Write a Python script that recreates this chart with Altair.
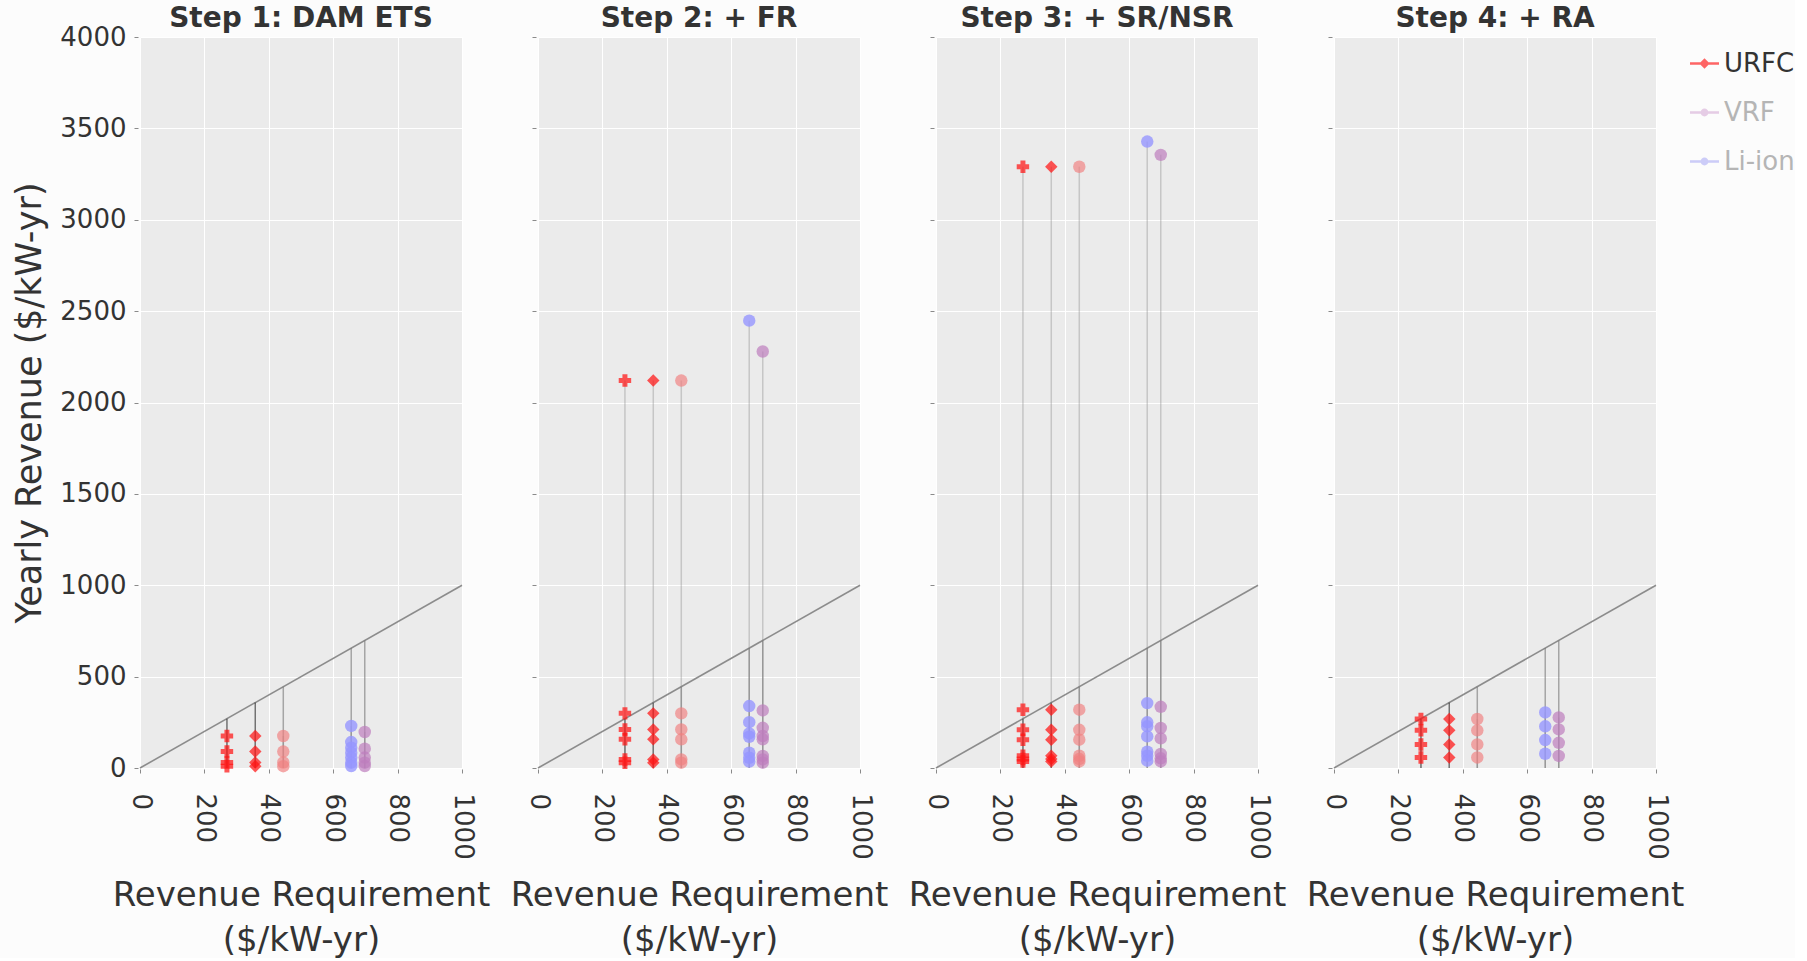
import altair as alt
import pandas as pd

# Panels: each step adds a market to the revenue stack
steps = ["Step 1: DAM ETS", "Step 2: + FR", "Step 3: + SR/NSR", "Step 4: + RA"]

# Storage cases: revenue requirement ($/kW-yr) and marker style
series = ["URFC-a", "URFC-b", "URFC-c", "Li-ion", "VRF"]
requirement = [270, 358, 445, 656, 698]
series_shape = ["cross", "diamond", "circle", "circle", "circle"]
series_size = [155, 155, 105, 105, 105]
series_fill = [
    "rgba(255,20,20,0.72)",
    "rgba(255,20,20,0.72)",
    "rgba(240,128,128,0.68)",
    "rgba(150,150,255,0.8)",
    "rgba(190,125,190,0.7)",
]
# darker guide from zero up to the requirement for the first two URFC cases
req_rule_color = ["#222222", "#222222", "#777777", "#777777", "#777777"]

# Yearly revenue ($/kW-yr) per step, per case (scenarios)
revenue = {
    steps[0]: [
        [175, 90, 30, 10],
        [175, 90, 30, 10],
        [175, 90, 30, 10],
        [230, 142, 111, 84, 57, 29, 11],
        [197, 106, 57, 29, 11],
    ],
    steps[1]: [
        [2120, 299, 211, 157, 47, 29],
        [2120, 299, 211, 157, 47, 29],
        [2120, 299, 211, 157, 47, 29],
        [2448, 339, 251, 189, 171, 84, 56, 35],
        [2279, 315, 220, 175, 157, 66, 47, 29],
    ],
    steps[2]: [
        [3290, 319, 209, 155, 67, 49, 36],
        [3290, 319, 209, 155, 67, 49, 36],
        [3290, 319, 209, 155, 67, 49, 36],
        [3428, 355, 250, 228, 173, 89, 67, 40],
        [3355, 335, 219, 162, 77, 53, 36],
    ],
    steps[3]: [
        [268, 206, 129, 58],
        [268, 206, 129, 58],
        [268, 206, 129, 58],
        [304, 228, 153, 78],
        [277, 211, 138, 66],
    ],
}

# Break-even line y = x
diag_x = [0, 1000]

# Legend entries
techs = ["URFC", "VRF", "Li-ion"]
tech_colors = ["#ff0000", "#d6abd6", "#ababf5"]

x_ticks = [0, 200, 400, 600, 800, 1000]
y_ticks = [0, 500, 1000, 1500, 2000, 2500, 3000, 3500, 4000]

FONT = "DejaVu Sans"
TEXT = "#333333"

# legend glyphs: a short line with a diamond / a dot on it
LINE = "M-1,-0.08L1,-0.08L1,0.08L-1,0.08Z"
DIAMOND_GLYPH = LINE + "M0,-0.36L0.36,0L0,0.36L-0.36,0Z"
DOT_GLYPH = LINE + "M0.27,0A0.27,0.27,0,1,1,-0.27,0A0.27,0.27,0,1,1,0.27,0Z"

diag_df = pd.DataFrame({"x": diag_x, "y": diag_x})
legend_df = pd.DataFrame({"tech": techs})

x_scale = alt.Scale(domain=[0, 1000], nice=False)
y_scale = alt.Scale(domain=[0, 4000], nice=False)


def x_axis():
    return alt.Axis(
        values=x_ticks,
        format="d",
        labelAngle=90,
        labelFontSize=26,
        labelPadding=20,
        tickSize=4,
        offset=1,
        title=["Revenue Requirement", "($/kW-yr)"],
        titleFontSize=34,
        titleLineHeight=45,
        titlePadding=19,
    )


def y_axis(first):
    if first:
        return alt.Axis(
            values=y_ticks,
            format="d",
            labelFontSize=26,
            labelPadding=8,
            tickSize=4,
            offset=2,
            title="Yearly Revenue ($/kW-yr)",
            titleFontSize=35,
            titlePadding=12,
        )
    return alt.Axis(values=y_ticks, labels=False, tickSize=4, offset=2, title=None)


panels = []
for i, step in enumerate(steps):
    pt_rows = []
    rule_rows = []
    for j, s in enumerate(series):
        vals = revenue[step][j]
        for v in vals:
            pt_rows.append({"series": s, "req": requirement[j], "rev": v})
        rule_rows.append({"series": s, "req": requirement[j], "top": requirement[j],
                          "kind": "req", "rcolor": req_rule_color[j]})
        rule_rows.append({"series": s, "req": requirement[j], "top": max(vals),
                          "kind": "max", "rcolor": "#808080"})
    pts_df = pd.DataFrame(pt_rows)
    rules_df = pd.DataFrame(rule_rows)

    x_enc = alt.X("x:Q", scale=x_scale, axis=x_axis())
    y_enc = alt.Y("y:Q", scale=y_scale, axis=y_axis(i == 0))

    diag = alt.Chart(diag_df).mark_line(color="#8c8c8c", strokeWidth=1.6).encode(
        x=x_enc, y=y_enc
    )

    rules_req = (
        alt.Chart(rules_df)
        .transform_filter("datum.kind == 'req'")
        .mark_rule(strokeWidth=1.5, opacity=0.6)
        .encode(
            x=alt.X("req:Q", scale=x_scale),
            y=alt.Y("top:Q", scale=y_scale),
            y2=alt.datum(0),
            color=alt.Color("rcolor:N", scale=None),
        )
    )
    rules_max = (
        alt.Chart(rules_df)
        .transform_filter("datum.kind == 'max'")
        .mark_rule(strokeWidth=1.5, opacity=0.35)
        .encode(
            x=alt.X("req:Q", scale=x_scale),
            y=alt.Y("top:Q", scale=y_scale),
            y2=alt.datum(0),
            color=alt.Color("rcolor:N", scale=None),
        )
    )

    points = alt.Chart(pts_df).mark_point(filled=True, opacity=1, strokeWidth=0).encode(
        x=alt.X("req:Q", scale=x_scale),
        y=alt.Y("rev:Q", scale=y_scale),
        fill=alt.Fill("series:N", scale=alt.Scale(domain=series, range=series_fill), legend=None),
        shape=alt.Shape("series:N", scale=alt.Scale(domain=series, range=series_shape), legend=None),
        size=alt.Size("series:N", scale=alt.Scale(domain=series, range=series_size), legend=None),
    )

    layers = [diag, rules_req, rules_max, points]

    if i == 0:
        # hidden marks that only carry the technology legend (placed at the far right)
        key = alt.Chart(legend_df).mark_point(filled=True, opacity=0, size=10).encode(
            x=alt.value(0),
            y=alt.value(0),
            color=alt.Color(
                "tech:N",
                scale=alt.Scale(domain=techs, range=tech_colors),
                legend=alt.Legend(
                    title=None,
                    orient="none",
                    legendX=1550,
                    legendY=12,
                    symbolSize=841,
                    symbolOpacity=1,
                    symbolStrokeWidth=0,
                    symbolType={
                        "expr": f"datum.label == 'URFC' ? '{DIAMOND_GLYPH}' : '{DOT_GLYPH}'"
                    },
                    labelFont=FONT,
                    labelFontSize=26,
                    labelOffset=5,
                    labelColor={"expr": "datum.label == 'URFC' ? '#333333' : '#b5b5b5'"},
                    rowPadding=21,
                    padding=0,
                ),
            ),
        )
        layers.append(key)

    panel = alt.layer(*layers).properties(
        width=322,
        height=731,
        title=alt.TitleParams(
            text=step,
            fontSize=28,
            fontWeight="bold",
            font=FONT,
            color=TEXT,
            # the first panel's tick labels poke above the plot; pull its title back down
            offset=-9 if i == 0 else 4,
            anchor="middle",
        ),
    )
    panels.append(panel)

chart = (
    alt.hconcat(*panels, spacing=20)
    .properties(
        background="#fcfcfc",
        padding={"left": 12, "top": 4, "right": 0, "bottom": 0},
    )
    .configure_view(fill="#ebebeb", stroke=None)
    .configure_axis(
        grid=True,
        gridColor="#ffffff",
        gridWidth=1,
        domain=False,
        tickColor="#8a8a8a",
        labelFont=FONT,
        labelColor=TEXT,
        titleFont=FONT,
        titleColor=TEXT,
        titleFontWeight="normal",
    )
)

chart.save("out.html", embed_options={"renderer": "svg", "actions": False})
